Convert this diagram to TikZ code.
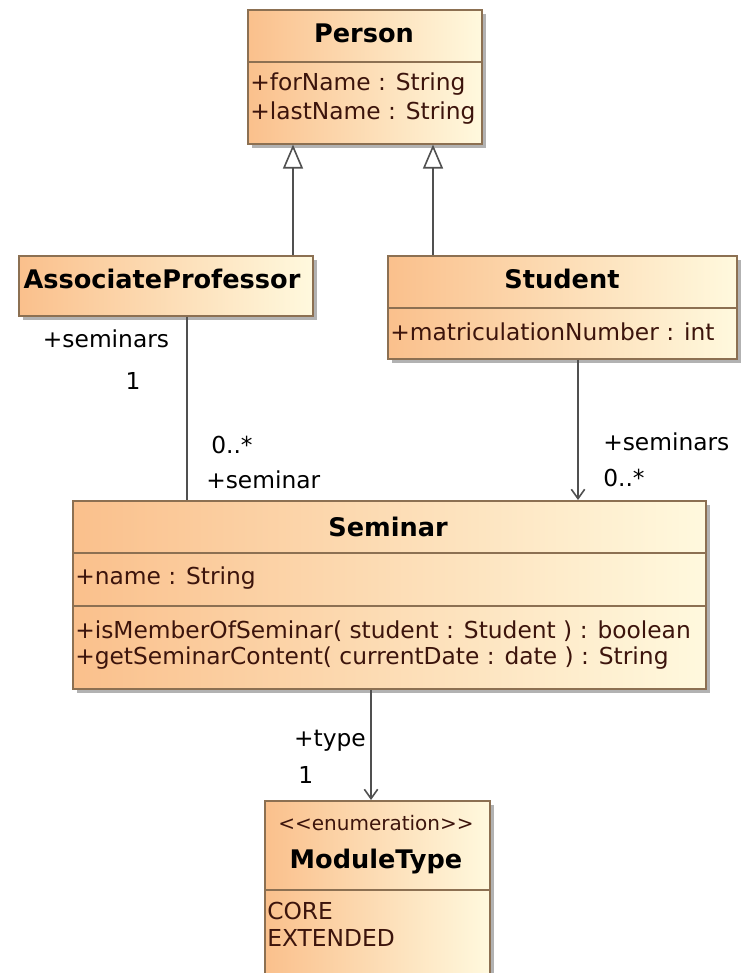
\documentclass[tikz,border=0pt]{standalone}
\usepackage{fontspec}
\setmainfont{DejaVu Sans}
\usetikzlibrary{shadows,arrows.meta}
\definecolor{boxL}{RGB}{250,192,140}
\definecolor{boxR}{RGB}{255,249,222}
\definecolor{boxBorder}{RGB}{140,112,82}
\definecolor{attr}{RGB}{60,20,12}
\definecolor{conn}{RGB}{80,80,80}
\tikzset{
  classbox/.style={rectangle, draw=boxBorder, line width=1.2pt, left color=boxL, right color=boxR,
    anchor=north west, inner sep=0pt, drop shadow={shadow xshift=3pt, shadow yshift=-3pt, fill=black, opacity=0.3}},
  sep/.style={draw=boxBorder, line width=1.2pt},
  title/.style={font=\bfseries\fontsize{19.2}{21}\selectfont, inner sep=0pt},
  attrtxt/.style={font=\fontsize{17.5}{20}\selectfont, text=attr, anchor=west, inner sep=0pt},
  lbl/.style={font=\fontsize{17.5}{20}\selectfont, text=black, inner sep=0pt},
  connline/.style={draw=conn, line width=1.2pt},
  gen/.style={connline, -{Triangle[open, length=18pt, width=15pt, line width=1.2pt]}},
  nav/.style={connline, -{Straight Barb[length=7pt, width=10pt, line width=1.2pt]}}
}
\begin{document}
\begin{tikzpicture}[x=0.75pt, y=-0.75pt]
\useasboundingbox[fill=white] (0,0) rectangle (740,973);
% Person
\node[classbox, minimum width=234*0.75pt, minimum height=134*0.75pt] (person) at (247,9) {};
\draw[sep] (247,62) -- (481,62);
\node[title] (personT) at (364,33) {Person};
\node[attrtxt] (pa1) at (250,84) {+forName : String};
\node[attrtxt] (pa2) at (250,113) {+lastName : String};
% AssociateProfessor
\node[classbox, minimum width=294*0.75pt, minimum height=60*0.75pt] (assoc) at (18,255) {};
\node[title] (assocT) at (162,279) {AssociateProfessor};
% Student
\node[classbox, minimum width=349*0.75pt, minimum height=103*0.75pt] (student) at (387,255) {};
\draw[sep] (387,308) -- (736,308);
\node[title] (studentT) at (562,279) {Student};
\node[attrtxt] (sa1) at (390,332) {+matriculationNumber : int};
% Seminar
\node[classbox, minimum width=633*0.75pt, minimum height=188*0.75pt] (seminar) at (72,500) {};
\draw[sep] (72,553) -- (705,553);
\draw[sep] (72,606) -- (705,606);
\node[title] (seminarT) at (388,527) {Seminar};
\node[attrtxt] (sema1) at (75,578) {+name : String};
\node[attrtxt] (semm1) at (75,631) {+isMemberOfSeminar( student : Student ) : boolean};
\node[attrtxt] (semm2) at (75,658) {+getSeminarContent( currentDate : date ) : String};
% ModuleType
\node[classbox, minimum width=225*0.75pt, minimum height=185*0.75pt] (module) at (264,800) {};
\draw[sep] (264,890) -- (489,890);
\node[lbl, font=\fontsize{15}{17}\selectfont, text=attr] (stereo) at (376,823) {{<}{<}enumeration{>}{>}};
\node[title] (moduleT) at (376,862) {ModuleType};
\node[attrtxt] (ma1) at (267,911) {CORE};
\node[attrtxt] (ma2) at (267,938) {EXTENDED};
% connector x positions
\coordinate (g1) at (293,0);
\coordinate (g2) at (433,0);
\coordinate (c1) at (187,0);
\coordinate (c2) at (578,0);
\coordinate (c3) at (371,0);
% generalizations
\draw[gen] (assoc.north -| g1) -- (person.south -| g1);
\draw[gen] (student.north -| g2) -- (person.south -| g2);
% associations
\draw[connline] (assoc.south -| c1) -- (seminar.north -| c1);
\draw[nav] (student.south -| c2) -- (seminar.north -| c2);
\draw[nav] (seminar.south -| c3) -- (module.north -| c3);
% labels
\node[lbl] (l1) at (106,339) {+seminars};
\node[lbl] (l2) at (133,381) {1};
\node[lbl, anchor=west] (l3) at (211,445) {0..*};
\node[lbl, anchor=west] (l4) at (206,480) {+seminar};
\node[lbl, anchor=west] (l5) at (603,442) {+seminars};
\node[lbl, anchor=west] (l6) at (603,478) {0..*};
\node[lbl, anchor=east] (l7) at (366,741) {+type};
\node[lbl, anchor=west] (l8) at (298,775) {1};
\end{tikzpicture}
\end{document}
